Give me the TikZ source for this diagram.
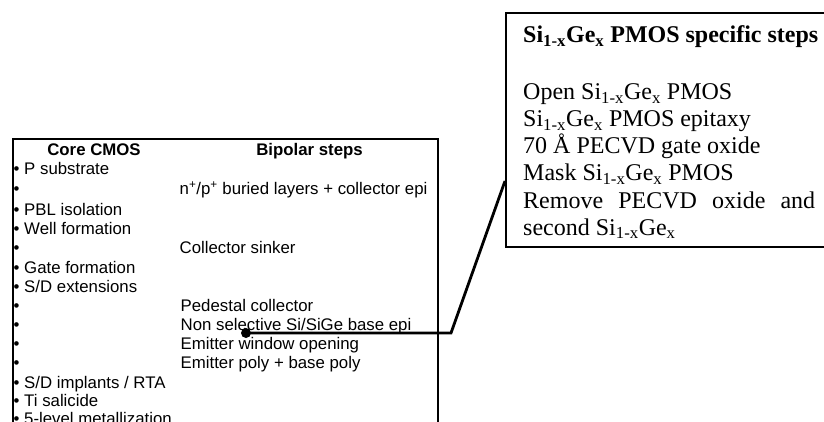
\documentclass[tikz,border=0pt]{standalone}
\usepackage{fontspec}
\setmainfont{Liberation Serif}
\newfontfamily\arialfont{Liberation Sans}
\begin{document}
\begin{tikzpicture}[x=1pt,y=-1pt,
  sans/.style={font=\arialfont\fontsize{16.8}{19}\selectfont, inner sep=0pt, anchor=base west},
  hdr/.style={font=\arialfont\bfseries\fontsize{16.8}{19}\selectfont, inner sep=0pt, anchor=base},
  serif/.style={font=\fontsize{24}{27}\selectfont, inner sep=0pt, anchor=base west},
  frame/.style={draw, line width=2pt, inner sep=0pt},
  link/.style={line width=2.8pt, line join=miter}]
\useasboundingbox (0,0) rectangle (824,422);
\clip (0,0) rectangle (824,422);
% table
\node[frame, anchor=north west, minimum width=425pt, minimum height=320pt] (table) at (12,138) {};
\node[hdr] (h1) at (94,156) {Core CMOS};
\node[hdr] (h2) at (309.5,156) {Bipolar steps};
\node[sans] (c1) at (13.5,175) {• P substrate};
\node[sans] (c2) at (13.5,195) {•};
\node[sans] (c3) at (13.5,215) {• PBL isolation};
\node[sans] (c4) at (13.5,234) {• Well formation};
\node[sans] (c5) at (13.5,253) {•};
\node[sans] (c6) at (13.5,273) {• Gate formation};
\node[sans] (c7) at (13.5,292) {• S/D extensions};
\node[sans] (c8) at (13.5,311) {•};
\node[sans] (c9) at (13.5,330) {•};
\node[sans] (c10) at (13.5,349) {•};
\node[sans] (c11) at (13.5,368) {•};
\node[sans] (c12) at (13.5,388) {• S/D implants / RTA};
\node[sans] (c13) at (13.5,406) {• Ti salicide};
\node[sans] (c14) at (13.5,424) {• 5-level metallization};
\node[sans] (b2) at (179.5,195) {n\textsuperscript{+}/p\textsuperscript{+} buried layers + collector epi};
\node[sans] (b5) at (179.5,253) {Collector sinker};
\node[sans] (b8) at (180.5,311) {Pedestal collector};
\node[sans] (b9) at (180.5,330) {Non selective Si/SiGe base epi};
\node[sans] (b10) at (180.5,349) {Emitter window opening};
\node[sans] (b11) at (180.5,368) {Emitter poly + base poly};
% right box
\node[frame, line width=2.2pt, anchor=north west, minimum width=345pt, minimum height=234pt] (pbox) at (505,12) {};
\node[serif, font=\bfseries\fontsize{24}{27}\selectfont] (t0) at (523,43) {Si\textsubscript{1-x}Ge\textsubscript{x} PMOS specific steps};
\node[serif] (t1) at (523,100) {Open Si\textsubscript{1-x}Ge\textsubscript{x} PMOS};
\node[serif] (t2) at (523,127) {Si\textsubscript{1-x}Ge\textsubscript{x} PMOS epitaxy};
\node[serif] (t3) at (523,154) {70 Å PECVD gate oxide};
\node[serif] (t4) at (523,181) {Mask Si\textsubscript{1-x}Ge\textsubscript{x} PMOS};
\node[serif] (t5) at (523,208) {\makebox[292pt][s]{Remove PECVD oxide and}};
\node[serif] (t6) at (523,235) {second Si\textsubscript{1-x}Ge\textsubscript{x}};
% connector
\node[circle, fill, inner sep=0pt, minimum size=10pt] (dot) at (246,333) {};
\coordinate (bend) at (451,333);
\coordinate (hit) at (505,181);
\draw[link] (dot.center) -- (bend) -- (hit);
\end{tikzpicture}
\end{document}
